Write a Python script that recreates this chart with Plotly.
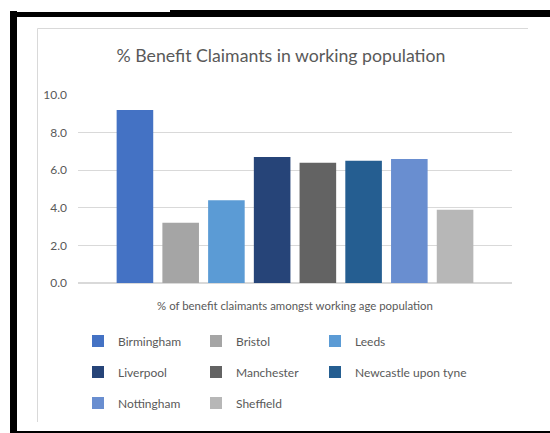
import plotly.graph_objects as go

# Claimant rates by city (% of working-age population)
cities = ["Birmingham", "Bristol", "Leeds", "Liverpool",
          "Manchester", "Newcastle upon tyne", "Nottingham", "Sheffield"]
claimant_pct = [9.2, 3.2, 4.4, 6.7, 6.4, 6.5, 6.6, 3.9]
category = ["% of benefit claimants amongst working age population"]
colors = ["#4472C4", "#A5A5A5", "#5B9BD5", "#264478",
          "#636363", "#255E91", "#698ED0", "#B7B7B7"]
# legend columns: three entries per row, filled left to right
legend_cols = ["legend", "legend2", "legend3"] * 3

W, H = 550, 433
L, R, T, B = 78, 38, 95, 150
FONT = "Lato, Roboto, sans-serif"
GREY = "#595959"

fig = go.Figure()
for i, (name, val, col) in enumerate(zip(cities, claimant_pct, colors)):
    fig.add_trace(go.Bar(
        x=category, y=[val], name=name, marker_color=col,
        marker_line_width=0, legend=legend_cols[i], legendgroup=name,
    ))

pw, ph = W - L - R, H - T - B


def px_x(p):
    return (p - L) / pw


def px_y(p):
    return (H - B - p) / ph


shapes = []
# black outer frame
for x0, y0, x1, y1 in [(10, 11, 17, 433), (10, 12, 170, 17),
                       (170, 10, 550, 17), (10, 431, 550, 433)]:
    shapes.append(dict(type="rect", xref="paper", yref="paper",
                       x0=px_x(x0), x1=px_x(x1), y0=px_y(y0), y1=px_y(y1),
                       fillcolor="black", line_width=0, layer="above"))
# light chart-area border (top and left)
shapes.append(dict(type="line", xref="paper", yref="paper",
                   x0=px_x(37.5), x1=px_x(528), y0=px_y(28.5), y1=px_y(28.5),
                   line=dict(color="#D9D9D9", width=1)))
shapes.append(dict(type="line", xref="paper", yref="paper",
                   x0=px_x(37.5), x1=px_x(37.5), y0=px_y(28.5), y1=px_y(422),
                   line=dict(color="#D9D9D9", width=1)))

legend_common = dict(orientation="v", xref="container", yref="container",
                     xanchor="left", yanchor="top", tracegroupgap=12,
                     bgcolor="rgba(0,0,0,0)",
                     font=dict(family=FONT, size=12, color=GREY),
                     traceorder="grouped")
legend_top = 1 - 326.5 / H
col_text_x = [118, 236, 355]

fig.update_layout(
    width=W, height=H,
    margin=dict(l=L, r=R, t=T, b=B, autoexpand=False),
    paper_bgcolor="white", plot_bgcolor="white",
    barmode="group", bargap=0.157, bargroupgap=0.2,
    title=dict(text="% Benefit Claimants in working population",
               x=281 / W, y=1 - 56 / H, xref="container", yref="container",
               xanchor="center", yanchor="middle",
               font=dict(family=FONT, size=17.7, color=GREY)),
    font=dict(family=FONT, size=12, color=GREY),
    xaxis=dict(showline=False, ticks="", ticklabelstandoff=15,
               tickfont=dict(size=11.4, color=GREY)),
    yaxis=dict(range=[0, 10], dtick=2, tickformat=".1f",
               gridcolor="#D9D9D9", gridwidth=1, zeroline=True,
               zerolinecolor="#D9D9D9", zerolinewidth=1.5,
               showline=False, ticks="", ticklabelstandoff=10,
               tickfont=dict(size=12, color=GREY)),
    legend=dict(legend_common, x=(col_text_x[0] - 40) / W, y=legend_top),
    legend2=dict(legend_common, x=(col_text_x[1] - 40) / W, y=legend_top),
    legend3=dict(legend_common, x=(col_text_x[2] - 40) / W, y=legend_top),
    shapes=shapes,
)

fig.write_html("out.html")
